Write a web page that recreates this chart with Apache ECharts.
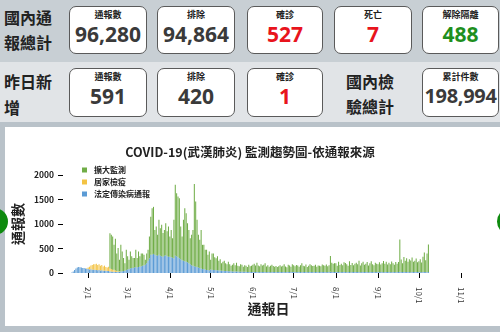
<!DOCTYPE html>
<html>
<head>
<meta charset="utf-8" />
<script src="https://cdn.jsdelivr.net/npm/echarts@6/dist/echarts.min.js"></script>
<style>
  body { margin: 0; background: #b9c2c9; width: 500px; height: 332px; overflow: hidden; position: relative;
         font-family: "Noto Sans CJK TC", "Noto Sans", sans-serif; }
  .band1 { position: absolute; left: 0; top: 0; width: 500px; height: 62px; background: #c8cfd4; }
  .band2 { position: absolute; left: 0; top: 62px; width: 500px; height: 60px; background: #e1e4e7; }
  .panel { position: absolute; left: 5px; top: 127px; width: 495px; height: 199px; background: #fff; }
  .box { position: absolute; box-sizing: border-box; background: #fff; border: 1px solid #5a5a5a; border-radius: 7px; }
  .box .lab { position: absolute; left: 0; right: 0; top: 2px; text-align: center; font-size: 9px; font-weight: bold; color: #222; line-height: 12px; }
  .box .num { position: absolute; left: 0; right: 0; top: 14px; text-align: center; font-size: 21px; font-weight: bold; color: #3a3a3a; line-height: 26px;
              font-family: "Noto Sans", sans-serif; }
  .box .num.small { font-size: 20px; letter-spacing: -0.3px; }
  .red { color: #e8141c !important; }
  .grn { color: #1e8f1e !important; }
  .side { position: absolute; font-size: 16px; font-weight: bold; color: #222; line-height: 25px; }
  .dot { position: absolute; width: 27px; height: 27px; border-radius: 50%; background: #0e8a0e; }
  #main { position: absolute; left: 0; top: 0; width: 500px; height: 332px; }
</style>
</head>
<body>
<div class="band1"></div>
<div class="band2"></div>
<div class="panel"></div>

<div class="side" style="left:4px;top:5px;">國內通<br>報總計</div>
<div class="box" style="left:69px;top:6px;width:78px;height:48px;"><div class="lab">通報數</div><div class="num">96,280</div></div>
<div class="box" style="left:157px;top:6px;width:78px;height:48px;"><div class="lab">排除</div><div class="num">94,864</div></div>
<div class="box" style="left:247px;top:6px;width:76px;height:48px;"><div class="lab">確診</div><div class="num red">527</div></div>
<div class="box" style="left:334px;top:6px;width:78px;height:48px;"><div class="lab">死亡</div><div class="num red">7</div></div>
<div class="box" style="left:422px;top:6px;width:77px;height:48px;"><div class="lab">解除隔離</div><div class="num grn">488</div></div>

<div class="side" style="left:4px;top:68px;line-height:26px;">昨日新<br>增</div>
<div class="box" style="left:69px;top:68px;width:78px;height:49px;"><div class="lab">通報數</div><div class="num">591</div></div>
<div class="box" style="left:157px;top:68px;width:78px;height:49px;"><div class="lab">排除</div><div class="num">420</div></div>
<div class="box" style="left:247px;top:68px;width:76px;height:49px;"><div class="lab">確診</div><div class="num red">1</div></div>
<div class="side" style="left:346px;top:69px;">國內檢<br>驗總計</div>
<div class="box" style="left:422px;top:68px;width:77px;height:49px;"><div class="lab">累計件數</div><div class="num small">198,994</div></div>

<div class="dot" style="left:-19px;top:208px;"></div>
<div class="dot" style="left:497px;top:208px;"></div>

<div id="main"></div>

<script type="text/javascript">
    // month tick labels shown on the x axis
    var monthTicks = ['2/1', '3/1', '4/1', '5/1', '6/1', '7/1', '8/1', '9/1', '10/1', '11/1'];

    // daily categories 1/14 .. 11/10
    var categories = [];
    var d = new Date(2020, 0, 14);
    var end = new Date(2020, 10, 10);
    while (d <= end) {
        categories.push((d.getMonth() + 1) + '/' + d.getDate());
        d.setDate(d.getDate() + 1);
    }

    // 法定傳染病通報 (blue), from 1/14
    var blueJan = [0, 0, 0, 0, 0, 0, 10, 30, 60, 90, 110, 120, 115, 110, 100, 100, 90, 85];
    var blueFeb = [80, 70, 75, 65, 70, 60, 60, 55, 60, 50, 55, 45, 50, 45, 40, 40, 30, 30, 25, 25, 20, 20, 20, 25, 30, 35, 40, 45, 60];
    var blueMar = [70, 80, 90, 100, 100, 110, 120, 110, 120, 130, 140, 150, 160, 170, 200, 250, 300, 370, 380, 390, 370, 360, 350, 370, 350, 340, 330, 350, 360, 340, 330];
    var blueApr = [330, 320, 310, 300, 350, 340, 320, 300, 280, 260, 250, 240, 230, 220, 200, 180, 160, 150, 140, 130, 120, 110, 100, 90, 80, 80, 70, 60, 60, 50];
    var blueMay = [70, 65, 60, 60, 55, 55, 50, 50, 45, 45, 40, 40, 40, 35, 35, 35, 30, 30, 30, 30, 30, 25, 25, 25, 25, 25, 25, 20, 20, 20, 20];
    var blueJun = [20, 18, 22, 20, 15, 18, 20, 22, 18, 20, 15, 18, 20, 17, 20, 22, 18, 15, 20, 18, 20, 22, 18, 20, 15, 18, 20, 22, 18, 20];
    var blueJul = [18, 20, 15, 22, 18, 20, 17, 20, 18, 22, 15, 20, 18, 20, 22, 17, 18, 20, 15, 20, 18, 22, 20, 18, 15, 20, 18, 25, 20, 18, 20];
    var blueAug = [20, 18, 22, 15, 20, 18, 20, 22, 17, 18, 20, 15, 22, 18, 20, 18, 20, 22, 15, 18, 20, 20, 18, 22, 15, 20, 18, 20, 17, 20, 18];
    var blueSep = [20, 18, 22, 20, 15, 18, 20, 22, 18, 20, 15, 18, 20, 17, 20, 22, 25, 18, 20, 18, 20, 22, 18, 20, 15, 18, 20, 22, 18, 20];
    var blueOct = [18, 20, 15, 22, 18, 20, 17, 20];

    // 居家檢疫 (yellow)
    var yellowJan = [0, 0, 0, 0, 0, 0, 0, 0, 0, 0, 0, 0, 0, 0, 0, 0, 0, 10];
    var yellowFeb = [30, 60, 80, 100, 110, 120, 130, 110, 120, 100, 110, 90, 100, 80, 70, 90, 60, 50, 40, 40, 30, 20, 10, 10, 0, 0, 0, 0, 0];

    // 擴大監測 (green)
    var greenJan = [0, 0, 0, 0, 0, 0, 0, 0, 0, 0, 0, 0, 0, 0, 0, 0, 0, 0];
    var greenFeb = [0, 0, 0, 0, 0, 0, 0, 0, 0, 0, 0, 0, 0, 0, 0, 0, 720, 700, 680, 510, 650, 360, 480, 235, 545, 405, 265, 155, 415];
    var greenMar = [270, 190, 350, 240, 205, 195, 355, 195, 320, 210, 260, 250, 215, 100, 200, 225, 445, 780, 940, 960, 510, 590, 430, 715, 565, 645, 485, 530, 655, 510, 620];
    var greenApr = [415, 560, 400, 785, 1450, 1290, 1240, 1225, 670, 485, 835, 1080, 990, 795, 680, 530, 620, 730, 1675, 1330, 965, 670, 580, 790, 495, 495, 405, 415, 315, 390];
    var greenMay = [200, 335, 340, 260, 245, 285, 200, 230, 155, 185, 210, 160, 140, 195, 145, 115, 140, 170, 130, 180, 120, 115, 155, 145, 105, 135, 125, 100, 150, 120, 130];
    var greenJun = [150, 170, 130, 190, 140, 120, 160, 130, 150, 180, 120, 140, 110, 130, 150, 120, 110, 130, 100, 120, 140, 110, 130, 160, 120, 100, 150, 130, 110, 160];
    var greenJul = [140, 120, 150, 130, 110, 140, 180, 130, 120, 150, 110, 130, 160, 140, 120, 130, 150, 110, 140, 130, 120, 150, 140, 130, 160, 120, 140, 320, 190, 170, 180];
    var greenAug = [180, 130, 210, 150, 170, 140, 200, 180, 160, 130, 220, 150, 180, 140, 170, 190, 160, 230, 140, 180, 210, 150, 170, 200, 140, 180, 220, 160, 140, 190, 170];
    var greenSep = [160, 200, 150, 180, 230, 170, 210, 150, 190, 160, 220, 180, 150, 210, 170, 200, 660, 260, 180, 310, 230, 280, 210, 260, 240, 300, 210, 230, 280, 200];
    var greenOct = [220, 260, 200, 310, 400, 240, 380, 560];

    var blue = [].concat(blueJan, blueFeb, blueMar, blueApr, blueMay, blueJun, blueJul, blueAug, blueSep, blueOct);
    var yellow = [].concat(yellowJan, yellowFeb);
    var green = [].concat(greenJan, greenFeb, greenMar, greenApr, greenMay, greenJun, greenJul, greenAug, greenSep, greenOct);

    var chartDom = document.getElementById('main');
    var myChart = echarts.init(chartDom, null, { renderer: 'canvas' });
    var option;

    function isMonthStart(idx, val) {
        return monthTicks.indexOf(val) >= 0;
    }

    option = {
        backgroundColor: 'transparent',
        animation: false,
        textStyle: { fontFamily: '"Noto Sans CJK TC", "Noto Sans", sans-serif' },
        title: {
            text: 'COVID-19(武漢肺炎) 監測趨勢圖-依通報來源',
            left: 'center',
            top: 146,
            padding: 0,
            textStyle: { fontSize: 12.5, fontWeight: 'bold', color: '#222' }
        },
        legend: {
            data: ['擴大監測', '居家檢疫', '法定傳染病通報'],
            orient: 'vertical',
            left: 82,
            top: 166,
            padding: 0,
            icon: 'rect',
            itemWidth: 5,
            itemHeight: 5,
            itemGap: 4,
            textStyle: { fontSize: 8, fontWeight: 'bold', color: '#222', padding: [0, 0, 0, 2] }
        },
        grid: { left: 63, right: 26, top: 175, bottom: 59 },
        xAxis: {
            type: 'category',
            data: categories,
            name: '通報日',
            nameLocation: 'middle',
            nameGap: 29,
            nameMoveOverlap: false,
            nameTextStyle: { fontSize: 14, fontWeight: 'bold', color: '#222' },
            axisLine: { show: false },
            axisTick: { show: true, alignWithLabel: true, interval: isMonthStart, length: 5, lineStyle: { color: '#000' } },
            axisLabel: { interval: isMonthStart, rotate: -90, fontSize: 8, margin: 14, color: '#333' },
            splitLine: { show: false }
        },
        yAxis: {
            type: 'value',
            min: 0,
            max: 2000,
            interval: 500,
            name: '通報數',
            nameLocation: 'middle',
            nameGap: 38,
            nameMoveOverlap: false,
            nameTextStyle: { fontSize: 14, fontWeight: 'bold', color: '#222' },
            axisLine: { show: false },
            axisTick: { show: true, length: 5, lineStyle: { color: '#000' } },
            axisLabel: { fontSize: 8.5, fontWeight: 'bold', color: '#222', margin: 9, formatter: function (v) { return String(v); } },
            splitLine: { show: false }
        },
        series: [
            { name: '法定傳染病通報', type: 'bar', stack: 'all', data: blue, barCategoryGap: '25%', itemStyle: { color: '#5b9bd5' } },
            { name: '居家檢疫', type: 'bar', stack: 'all', data: yellow, itemStyle: { color: '#f3c343' } },
            { name: '擴大監測', type: 'bar', stack: 'all', data: green, itemStyle: { color: '#70ad47' } }
        ]
    };
    option && myChart.setOption(option);
</script>
</body>
</html>
